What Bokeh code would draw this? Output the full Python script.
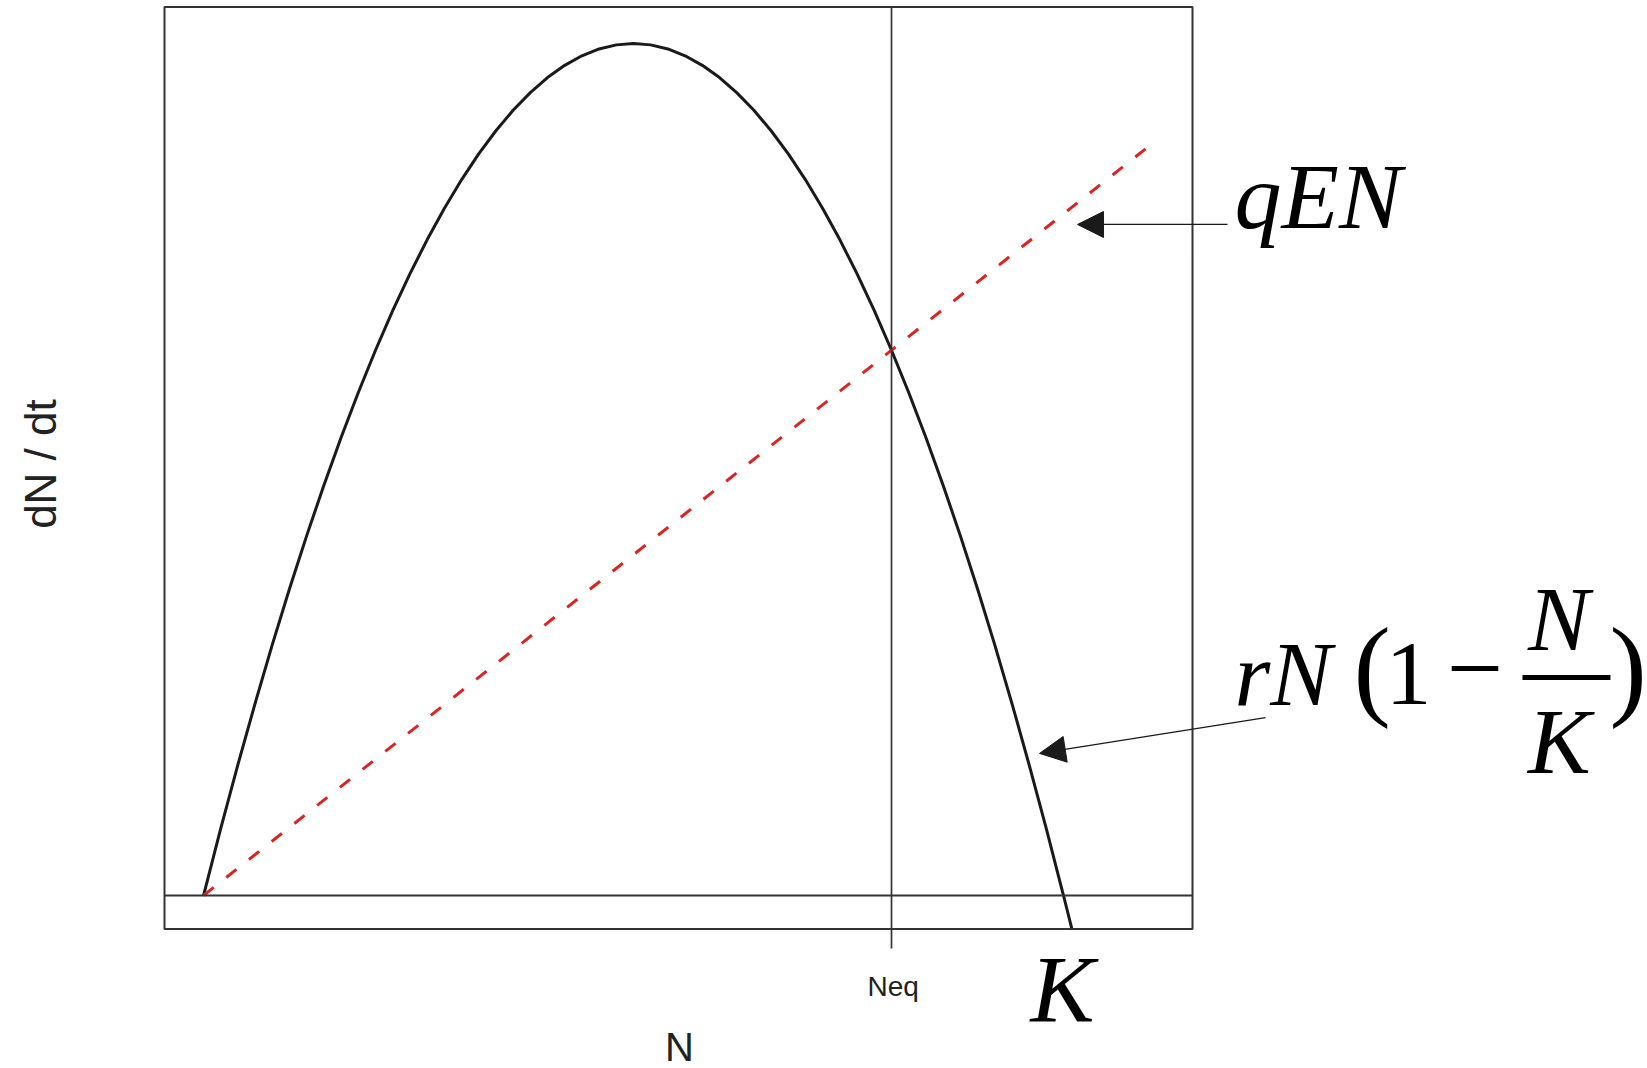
from bokeh.plotting import figure
from bokeh.models import Range1d, Label, Arrow, NormalHead, BoxAnnotation
from bokeh.embed import file_html
from bokeh.resources import INLINE

# ---- data ----
N_values = [0, 2, 4, 6, 8, 10, 12, 14, 16, 18, 20, 22, 24, 26, 28, 30, 32, 34, 36, 38,
            40, 42, 44, 46, 48, 50, 52, 54, 56, 58, 60, 62, 64, 66, 68, 70, 72, 74, 76, 78,
            80, 82, 84, 86, 88, 90, 92, 94, 96, 98, 100, 101]
growth = [0.0, 1.96, 3.84, 5.64, 7.36, 9.0, 10.56, 12.04, 13.44, 14.76, 16.0, 17.16, 18.24,
          19.24, 20.16, 21.0, 21.76, 22.44, 23.04, 23.56, 24.0, 24.36, 24.64, 24.84, 24.96,
          25.0, 24.96, 24.84, 24.64, 24.36, 24.0, 23.56, 23.04, 22.44, 21.76, 21.0, 20.16,
          19.24, 18.24, 17.16, 16.0, 14.76, 13.44, 12.04, 10.56, 9.0, 7.36, 5.64, 3.84,
          1.96, 0.0, -1.01]
harvest_N = [0, 110]
harvest = [0, 22]
N_eq = 80
tick_label = "Neq"
x_label = "N"
y_label = "dN / dt"

# plotting-box limits (R-style box around the data region)
BOX_L, BOX_R, BOX_B, BOX_T = -4.535, 115.0, -0.983, 26.071

SERIF = "Liberation Serif"
SANS = "Liberation Sans"
INK = "#1a1a1a"
GREY = "#333333"

p = figure(width=1647, height=1068,
           x_range=Range1d(-23.605, 167.907), y_range=Range1d(-5.076, 26.262),
           output_backend="svg", toolbar_location=None,
           min_border_left=0, min_border_right=0, min_border_top=0, min_border_bottom=0)
p.background_fill_color = "white"
p.border_fill_color = "white"
p.outline_line_color = None
p.xgrid.visible = False
p.ygrid.visible = False
p.xaxis.visible = False
p.yaxis.visible = False

# box
p.add_layout(BoxAnnotation(left=BOX_L, right=BOX_R, bottom=BOX_B, top=BOX_T,
                           fill_color=None, fill_alpha=0, line_color=GREY,
                           line_alpha=1.0, line_width=2))

def seg(x0, y0, x1, y1, width, color=GREY):
    p.add_layout(Arrow(x_start=x0, y_start=y0, x_end=x1, y_end=y1, start=None, end=None,
                       line_color=color, line_width=width))

# zero line and equilibrium line (with its tick below the box)
seg(BOX_L, 0, BOX_R, 0, 2)
seg(N_eq, -1.555, N_eq, BOX_T, 1.7)

# curves
p.line(N_values, growth, line_color=INK, line_width=3)
p.line(harvest_N, harvest, line_color="#d92424", line_width=3, line_dash="13 16")

# arrows
p.add_layout(Arrow(x_start=119.07, y_start=19.69, x_end=101.63, y_end=19.69,
                   line_color=INK, line_width=1.3,
                   end=NormalHead(size=26, fill_color=INK, line_color=INK, line_width=1)))
p.add_layout(Arrow(x_start=123.49, y_start=5.22, x_end=97.21, y_end=4.17,
                   line_color=INK, line_width=1.3,
                   end=NormalHead(size=26, fill_color=INK, line_color=INK, line_width=1)))

# fraction bar of the formula
seg(153.37, 6.397, 163.60, 6.397, 5, color="black")

def lab(x, y, text, size, font=SERIF, style="italic", align="left", baseline="alphabetic",
        angle=0.0, color="black"):
    p.add_layout(Label(x=x, y=y, text=text, text_font=font, text_font_style=style,
                       text_font_size=f"{size}px", text_align=align,
                       text_baseline=baseline, angle=angle, text_color=color))

# formula labels
lab(119.88, 20.54, "qEN", 94)
lab(119.88, 6.493, "rN", 92)
lab(133.72, 6.692, "(", 112, style="normal")
lab(137.44, 6.493, "1", 92, style="normal")
lab(147.85, 6.632, "\u2212", 100, style="normal", align="center")
lab(154.0, 8.107, "N", 92)
lab(154.0, 4.547, "K", 94)
lab(163.49, 6.692, ")", 112, style="normal")
lab(96.16, -2.769, "K", 96)

# tick label and axis titles
lab(N_eq + 0.2, -2.671, tick_label, 28, font=SANS, style="normal", align="center", color="#222222")
lab(55.35, -4.431, x_label, 40, font=SANS, style="normal", align="center", color="#222222")
lab(-19.01, 12.66, y_label, 44, font=SANS, style="normal", align="center",
    angle=1.5707963, color="#222222")

open("out.html", "w").write(file_html(p, INLINE))
